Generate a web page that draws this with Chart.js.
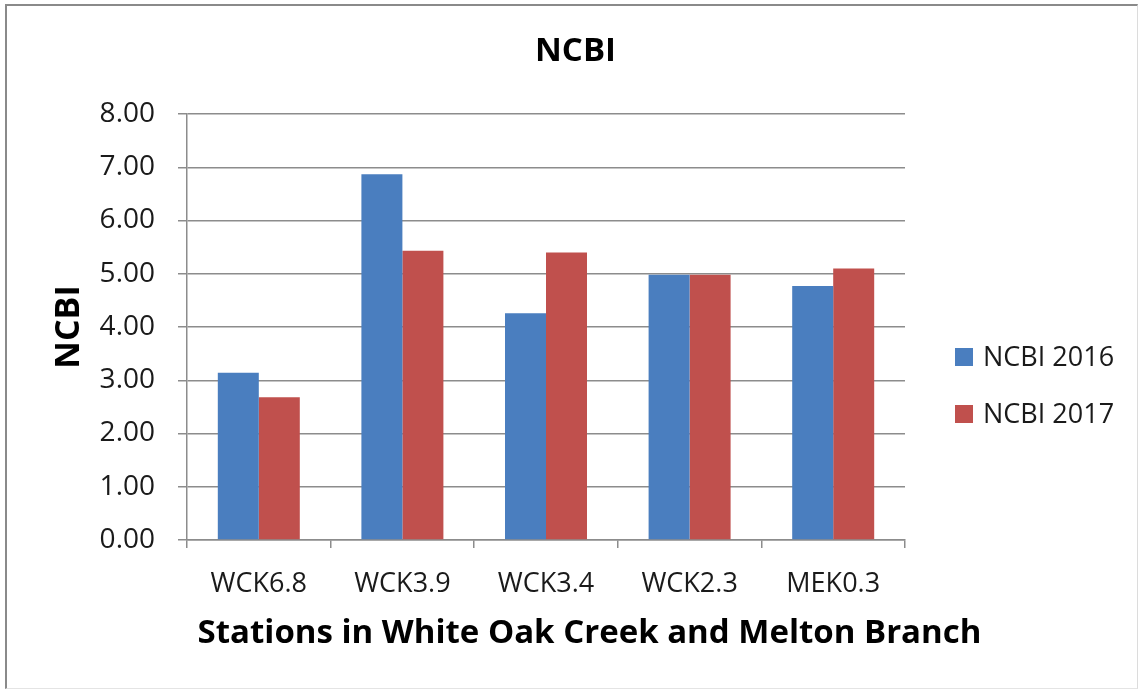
<!DOCTYPE html>
<html>
<head>
<meta charset="utf-8">
<script src="https://cdn.jsdelivr.net/npm/chart.js@4/dist/chart.umd.min.js"></script>
<style>
  html, body { margin: 0; padding: 0; background: #ffffff; }
  #frame { position: absolute; left: 5px; top: 4px; width: 1133px; height: 685px; box-sizing: border-box;
           border-top: 2px solid #8a8a8a; border-left: 2px solid #8a8a8a;
           border-right: 1px solid #dcdcdc; border-bottom: 1px solid #e4e4e4; }
  #wrap { position: absolute; left: 0; top: 0; width: 1141px; height: 691px; }
</style>
</head>
<body>
<div id="frame"></div>
<div id="wrap"><canvas id="c" width="1141" height="691"></canvas></div>
<script>
const categories = ['WCK6.8', 'WCK3.9', 'WCK3.4', 'WCK2.3', 'MEK0.3'];
const ncbi2016 = [3.14, 6.87, 4.26, 4.98, 4.77];
const ncbi2017 = [2.68, 5.43, 5.40, 4.98, 5.10];
const seriesLabels = ['NCBI 2016', 'NCBI 2017'];
const chartTitle = 'NCBI';
const yAxisTitle = 'NCBI';
const xAxisTitle = 'Stations in White Oak Creek and Melton Branch';

const FONT = "'Open Sans', 'Liberation Sans', sans-serif";

const customLegend = {
  id: 'customLegend',
  afterDraw(chart) {
    const ctx = chart.ctx;
    ctx.save();
    ctx.font = '27px ' + FONT;
    ctx.textBaseline = 'middle';
    ctx.textAlign = 'left';
    const ys = [357, 414];
    chart.data.datasets.forEach((ds, i) => {
      const y = ys[i];
      ctx.fillStyle = ds.backgroundColor;
      ctx.fillRect(955, y - 9, 18, 18);
      ctx.fillStyle = '#1a1a1a';
      ctx.fillText(ds.label, 983, y + 1);
    });
    // x-axis title, placed as in the reference (offset right of the plot centre)
    ctx.font = 'bold 33px ' + FONT;
    ctx.textAlign = 'center';
    ctx.textBaseline = 'alphabetic';
    ctx.fillStyle = '#000';
    ctx.fillText(xAxisTitle, 589.5, 643);
    ctx.restore();
  }
};

new Chart(document.getElementById('c'), {
  type: 'bar',
  data: {
    labels: categories,
    datasets: [
      { label: seriesLabels[0], data: ncbi2016, backgroundColor: '#4a7ebf', borderWidth: 0 },
      { label: seriesLabels[1], data: ncbi2017, backgroundColor: '#c0504d', borderWidth: 0 }
    ]
  },
  options: {
    responsive: false,
    animation: false,
    layout: { padding: { left: 10, right: 0, top: 0, bottom: 0 } },
    datasets: { bar: { categoryPercentage: 0.571, barPercentage: 1.0 } },
    plugins: {
      legend: { display: false },
      tooltip: { enabled: false },
      title: {
        display: true, text: chartTitle, color: '#000',
        font: { family: FONT, size: 33, weight: 'bold', lineHeight: 1.2 },
        padding: { top: 32, bottom: 42.4 }
      }
    },
    scales: {
      x: {
        grid: { display: true, drawOnChartArea: false, drawTicks: true, tickLength: 8, color: '#8c8c8c', lineWidth: 1.5, offset: true },
        border: { display: true, color: '#8c8c8c', width: 1.5 },
        ticks: { color: '#1a1a1a', font: { family: FONT, size: 27 }, padding: 20, maxRotation: 0 },
        title: { display: false },
        afterFit(scale) { scale.height = 151; }
      },
      y: {
        min: 0, max: 8,
        ticks: { stepSize: 1, color: '#1a1a1a', font: { family: FONT, size: 28 }, padding: 23, callback: v => Number(v).toFixed(2) },
        grid: { color: '#8c8c8c', lineWidth: 1.5, tickLength: 9, drawTicks: true },
        border: { display: true, color: '#8c8c8c', width: 1.5 },
        title: { display: true, text: yAxisTitle, color: '#000', font: { family: FONT, size: 34, weight: 'bold', lineHeight: 1.2 }, padding: { top: 38.6, bottom: 0 } },
        afterFit(scale) { scale.width = 177; }
      },
      yRightSpace: {
        type: 'linear', position: 'right', display: true,
        min: 0, max: 8,
        ticks: { display: false },
        grid: { display: false, drawTicks: false },
        border: { display: false },
        title: { display: false },
        afterFit(scale) { scale.width = 236; }
      }
    }
  },
  plugins: [customLegend]
});
</script>
</body>
</html>
